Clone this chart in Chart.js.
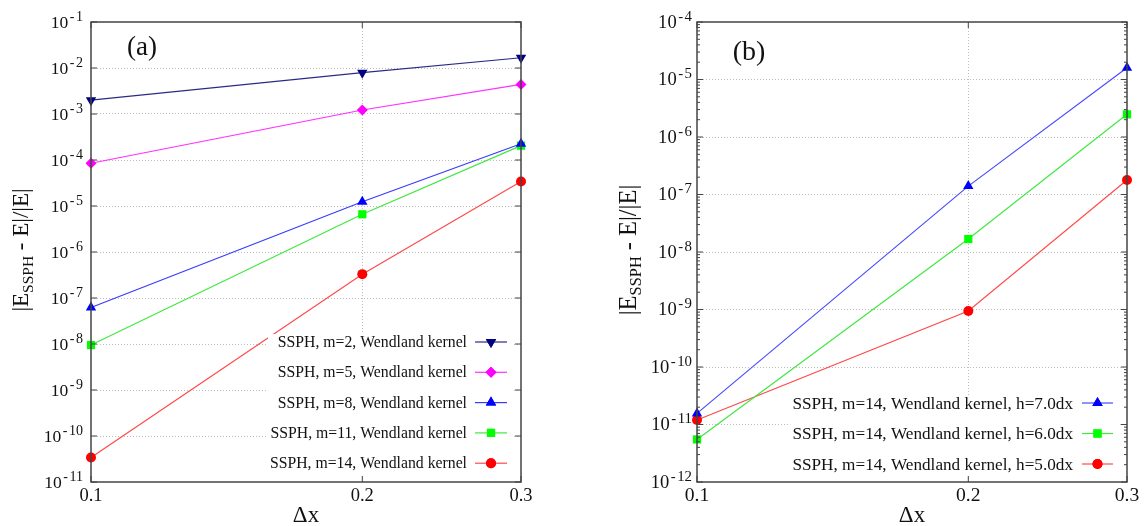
<!DOCTYPE html>
<html>
<head>
<meta charset="utf-8">
<script src="https://cdn.jsdelivr.net/npm/chart.js@4/dist/chart.umd.min.js"></script>
<style>
  html, body { margin: 0; padding: 0; background: #fff; }
  #wrap { position: relative; width: 1148px; height: 526px; }
  .panel { position: absolute; top: 0; width: 574px; height: 526px; }
</style>
</head>
<body>
<div id="wrap">
  <div class="panel" style="left:0"><canvas id="chartA"></canvas></div>
  <div class="panel" style="left:574px"><canvas id="chartB"></canvas></div>
</div>
<script>
// datos
const dx = [0.1, 0.2, 0.3];
const xTicks = [0.1, 0.2, 0.3];

// panel (a)
const labelsA = [
  'SSPH, m=2, Wendland kernel',
  'SSPH, m=5, Wendland kernel',
  'SSPH, m=8, Wendland kernel',
  'SSPH, m=11, Wendland kernel',
  'SSPH, m=14, Wendland kernel'
];
const errM2 = [2.0e-3, 7.9e-3, 1.67e-2];
const errM5 = [8.5e-5, 1.22e-3, 4.4e-3];
const errM8 = [6.2e-8, 1.24e-5, 2.25e-4];
const errM11 = [9.5e-9, 6.6e-6, 2.05e-4];
const errM14 = [3.4e-11, 3.3e-7, 3.4e-5];
const yTicksA = [1e-11, 1e-10, 1e-9, 1e-8, 1e-7, 1e-6, 1e-5, 1e-4, 1e-3, 1e-2, 1e-1];

// panel (b)
const labelsB = [
  'SSPH, m=14, Wendland kernel, h=7.0dx',
  'SSPH, m=14, Wendland kernel, h=6.0dx',
  'SSPH, m=14, Wendland kernel, h=5.0dx'
];
const errH7 = [1.56e-11, 1.4e-7, 1.6e-5];
const errH6 = [5.5e-12, 1.68e-8, 2.48e-6];
const errH5 = [1.2e-11, 9.4e-10, 1.79e-7];
const yTicksB = [1e-12, 1e-11, 1e-10, 1e-9, 1e-8, 1e-7, 1e-6, 1e-5, 1e-4];

const SERIF = '"Liberation Serif", "DejaVu Serif", serif';

function serie(label, ys, line, mark, style, rot, size) {
  return {
    label: label,
    data: dx.map((x, i) => ({ x: x, y: ys[i] })),
    borderColor: line,
    borderWidth: 1.2,
    backgroundColor: mark,
    pointBackgroundColor: mark,
    pointBorderColor: mark,
    pointBorderWidth: 0,
    pointStyle: style,
    pointRotation: rot || 0,
    pointRadius: size,
    tension: 0,
    fill: false,
    clip: false
  };
}

// dibuja marco, ticks, etiquetas, titulos y leyenda al estilo gnuplot
const gnuplotPlugin = {
  id: 'gnuplotLook',
  afterDraw(chart, args, opts) {
    const ctx = chart.ctx;
    const a = chart.chartArea;
    const xs = chart.scales.x, ys = chart.scales.y;
    const fs = opts.fs;
    ctx.save();

    // leyenda con fondo blanco
    const lg = opts.legend;
    ctx.font = lg.font + 'px ' + SERIF;
    let maxW = 0;
    chart.data.datasets.forEach(d => { maxW = Math.max(maxW, ctx.measureText(d.label).width); });
    const nrow = chart.data.datasets.length;
    ctx.fillStyle = '#fff';
    ctx.fillRect(lg.textRight - maxW - 2, lg.top - 8, maxW + 2 + (lg.lineEnd - lg.textRight) + 6, (nrow - 1) * lg.step + 22);
    chart.data.datasets.forEach((d, i) => {
      const y = lg.top + i * lg.step;
      ctx.fillStyle = '#111';
      ctx.textAlign = 'right';
      ctx.textBaseline = 'middle';
      ctx.fillText(d.label, lg.textRight, y + 1);
      ctx.strokeStyle = d.borderColor;
      ctx.lineWidth = 1.2;
      ctx.beginPath();
      ctx.moveTo(lg.lineStart, y);
      ctx.lineTo(lg.lineEnd, y);
      ctx.stroke();
      ctx.fillStyle = d.pointBackgroundColor;
      Chart.helpers.drawPoint(ctx, {
        pointStyle: d.pointStyle, rotation: d.pointRotation, radius: d.pointRadius, borderWidth: 0
      }, (lg.lineStart + lg.lineEnd) / 2, y);
      ctx.fill();
    });

    // marco
    ctx.strokeStyle = '#444';
    ctx.lineWidth = 1.5;
    ctx.strokeRect(a.left, a.top, a.right - a.left, a.bottom - a.top);

    // ticks y (hacia dentro)
    ctx.lineWidth = 1;
    ctx.strokeStyle = '#444';
    ys.ticks.forEach(t => {
      const y = ys.getPixelForValue(t.value);
      ctx.beginPath();
      ctx.moveTo(a.left, y); ctx.lineTo(a.left + 6, y);
      ctx.moveTo(a.right, y); ctx.lineTo(a.right - 6, y);
      ctx.stroke();
      if (opts.minor) {
        for (let k = 2; k <= 9; k++) {
          const v = t.value * k;
          if (v > ys.max) break;
          const ym = ys.getPixelForValue(v);
          ctx.beginPath();
          ctx.moveTo(a.left, ym); ctx.lineTo(a.left + 3, ym);
          ctx.moveTo(a.right, ym); ctx.lineTo(a.right - 3, ym);
          ctx.stroke();
        }
      }
    });
    // ticks x
    xs.ticks.forEach(t => {
      const x = xs.getPixelForValue(t.value);
      ctx.beginPath();
      ctx.moveTo(x, a.bottom); ctx.lineTo(x, a.bottom - 6);
      ctx.moveTo(x, a.top); ctx.lineTo(x, a.top + 6);
      ctx.stroke();
    });

    // etiquetas y: 10 con exponente (guion corto + cifras)
    ctx.fillStyle = '#111';
    ctx.textBaseline = 'alphabetic';
    ctx.textAlign = 'left';
    const fBase = (17.5 * fs) + 'px ' + SERIF, fExp = (14 * fs) + 'px ' + SERIF;
    ys.ticks.forEach(t => {
      const y = ys.getPixelForValue(t.value);
      const digits = String(-Math.round(Math.log10(t.value)));
      ctx.font = fExp;
      const wd = ctx.measureText(digits).width;
      const wm = ctx.measureText('-').width;
      ctx.font = fBase;
      const wb = ctx.measureText('10').width;
      const right = a.left - opts.labelGap;
      const x0 = right - wd - wm - 1.5 - wb - 1.5;
      ctx.fillText('10', x0, y + 5.5);
      ctx.font = fExp;
      ctx.fillText('-', x0 + wb + 1.5, y - 1.5);
      ctx.fillText(digits, right - wd, y - 1.5);
    });
    // etiquetas x
    ctx.font = (18.5 * fs) + 'px ' + SERIF;
    ctx.textAlign = 'center';
    xs.ticks.forEach(t => {
      ctx.fillText(String(t.value), xs.getPixelForValue(t.value), a.bottom + 18.5);
    });

    // titulo x
    ctx.font = '23px ' + SERIF;
    ctx.fillText('\u0394x', (a.left + a.right) / 2, 522);

    // etiqueta del panel
    ctx.font = opts.tagFont + 'px ' + SERIF;
    ctx.fillText(opts.tag, opts.tagX, opts.tagY);

    // titulo y rotado con subindice
    ctx.textAlign = 'left';
    ctx.translate(opts.yTitleX, 250);
    ctx.rotate(-Math.PI / 2);
    const big = (23 * fs) + 'px ' + SERIF, small = (15.5 * fs) + 'px ' + SERIF;
    const parts = [['|E', big, 0], ['SSPH', small, 4.5], [' - E|/|E|', big, 0]];
    let total = 0;
    parts.forEach(p => { ctx.font = p[1]; total += ctx.measureText(p[0]).width; });
    let px = -total / 2;
    parts.forEach(p => {
      ctx.font = p[1];
      ctx.fillText(p[0], px, 7 + p[2]);
      px += ctx.measureText(p[0]).width;
    });
    ctx.restore();
  }
};

function makeChart(id, datasets, yMin, yMax, yTicks, left, right, plug) {
  return new Chart(document.getElementById(id), {
    type: 'line',
    data: { datasets: datasets },
    options: {
      responsive: false,
      animation: false,
      devicePixelRatio: 1,
      layout: { padding: { left: 0, right: 574 - right, top: 22, bottom: 0 } },
      plugins: { legend: { display: false }, tooltip: { enabled: false }, gnuplotLook: plug },
      scales: {
        x: {
          type: 'logarithmic',
          min: 0.1, max: 0.3,
          afterBuildTicks: s => { s.ticks = xTicks.map(v => ({ value: v })); },
          afterFit: s => { s.height = 44; },
          ticks: { display: false },
          grid: {
            drawTicks: false,
            color: c => (c.tick && c.tick.value > 0.1 && c.tick.value < 0.3) ? '#bdbdbd' : 'rgba(0,0,0,0)',
            lineWidth: 1
          },
          border: { display: false, dash: [1, 2] }
        },
        y: {
          type: 'logarithmic',
          min: yMin, max: yMax,
          afterBuildTicks: s => { s.ticks = yTicks.map(v => ({ value: v, major: true })); },
          afterFit: s => { s.width = left; },
          ticks: { display: false },
          grid: {
            drawTicks: false,
            color: c => (c.tick && c.tick.value > yMin && c.tick.value < yMax) ? '#bdbdbd' : 'rgba(0,0,0,0)',
            lineWidth: 1
          },
          border: { display: false, dash: [1, 2] }
        }
      }
    },
    plugins: [gnuplotPlugin]
  });
}

['chartA', 'chartB'].forEach(id => {
  document.getElementById(id).width = 574;
  document.getElementById(id).height = 526;
});

makeChart('chartA', [
  serie(labelsA[0], errM2, '#2a2a86', '#000080', 'triangle', 180, 6),
  serie(labelsA[1], errM5, '#ff30ff', '#ff00ff', 'rectRot', 0, 5.5),
  serie(labelsA[2], errM8, '#3a3aff', '#0000ff', 'triangle', 0, 6),
  serie(labelsA[3], errM11, '#40e840', '#00ff00', 'rect', 0, 5.8),
  serie(labelsA[4], errM14, '#ff4a4a', '#ff0000', 'circle', 0, 5)
], 1e-11, 1e-1, yTicksA, 91, 521, {
  fs: 1, minor: false, labelGap: 8, tag: '(a)', tagFont: 27, tagX: 142, tagY: 55, yTitleX: 21,
  legend: { font: 15.75, textRight: 467, lineStart: 475, lineEnd: 507, top: 342, step: 30.3 }
});

makeChart('chartB', [
  serie(labelsB[0], errH7, '#4a4aff', '#0000ff', 'triangle', 0, 6),
  serie(labelsB[1], errH6, '#40e840', '#00ff00', 'rect', 0, 5.8),
  serie(labelsB[2], errH5, '#ff4a4a', '#ff0000', 'circle', 0, 5)
], 1e-12, 1e-4, yTicksB, 123, 553, {
  fs: 1.06, minor: true, labelGap: 5, tag: '(b)', tagFont: 28, tagX: 175, tagY: 60, yTitleX: 55,
  legend: { font: 17.2, textRight: 499, lineStart: 508, lineEnd: 539, top: 403, step: 30.5 }
});
</script>
</body>
</html>
